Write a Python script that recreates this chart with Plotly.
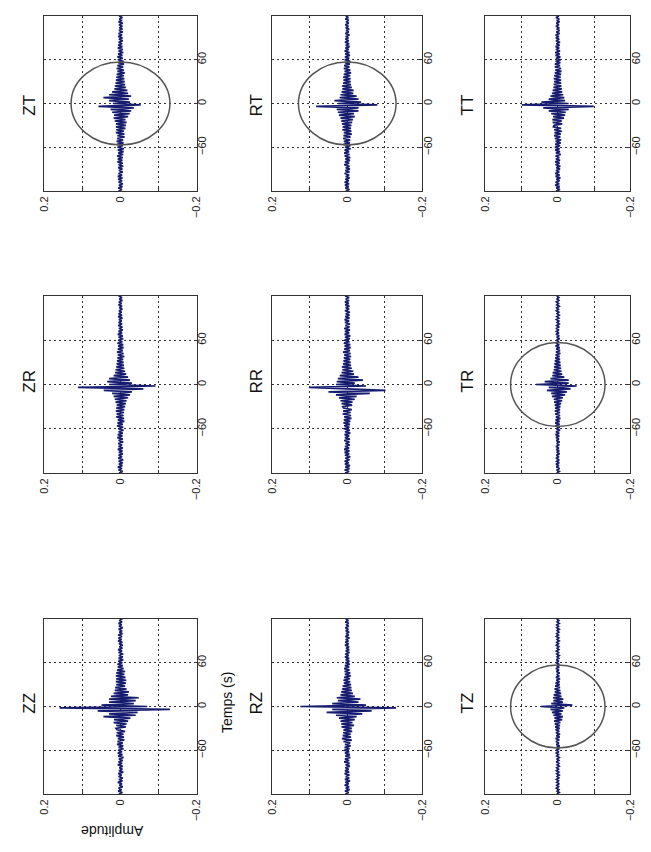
import plotly.graph_objects as go
from plotly.subplots import make_subplots

# ---------------- data ----------------
time_s = list(range(-120, 122, 2))  # sampling grid, 2 s step

ZZ = [0.004,-0.005,0.006,-0.003,0.005,-0.006,0.003,-0.004,0.007,-0.005,
      0.004,-0.006,0.005,-0.003,0.006,-0.007,0.004,-0.005,0.003,-0.006,
      0.007,-0.004,0.005,-0.006,0.004,-0.008,0.006,-0.005,0.007,-0.004,
      0.006,-0.008,0.005,-0.007,0.009,-0.006,0.008,-0.01,0.007,-0.009,
      0.011,-0.008,0.01,-0.012,0.009,
      0.012,-0.014,0.011,-0.016,0.018,-0.02,0.017,-0.026,0.045,-0.04,0.03,-0.045,0.06,-0.13,0.16,
      -0.07,0.05,-0.035,0.03,-0.04,0.03,-0.048,0.025,-0.02,0.018,-0.022,0.015,-0.016,0.014,-0.012,0.011,
      -0.014,0.012,-0.015,0.011,-0.013,0.012,-0.01,0.011,-0.012,0.009,
      -0.008,0.007,-0.006,0.008,-0.005,0.006,-0.007,0.005,-0.006,0.004,
      -0.007,0.005,-0.004,0.006,-0.005,0.003,-0.006,0.004,-0.005,0.006,
      -0.003,0.005,-0.004,0.006,-0.005,0.003,-0.004,0.005,-0.006,0.004,
      -0.003,0.005,-0.004,0.003,-0.005]

RZ = [0.005,-0.004,0.006,-0.006,0.004,-0.005,0.007,-0.004,0.005,-0.007,
      0.006,-0.005,0.004,-0.006,0.007,-0.005,0.006,-0.004,0.005,-0.007,
      0.004,-0.006,0.008,-0.005,0.006,-0.008,0.005,-0.007,0.006,-0.005,
      0.008,-0.006,0.007,-0.009,0.006,-0.008,0.01,-0.012,0.014,-0.01,
      0.012,-0.009,0.011,-0.013,0.01,
      -0.012,0.015,-0.018,0.016,-0.014,0.018,-0.02,0.022,-0.025,0.03,-0.04,0.055,-0.065,0.04,-0.13,
      0.125,-0.05,0.04,-0.03,0.025,-0.035,0.028,-0.02,0.018,-0.015,0.016,-0.012,0.014,-0.011,0.012,-0.01,
      0.009,-0.008,0.01,-0.007,0.008,-0.009,0.006,-0.008,0.007,-0.006,
      0.008,-0.005,0.006,-0.007,0.005,-0.006,0.004,-0.005,0.006,-0.004,
      0.005,-0.006,0.004,-0.005,0.003,-0.005,0.006,-0.004,0.005,-0.003,
      0.004,-0.006,0.005,-0.004,0.003,-0.005,0.004,-0.003,0.005,-0.004,
      0.003,-0.004,0.005,-0.003,0.004]

TZ = [0.003,-0.004,0.002,-0.003,0.004,-0.002,0.003,-0.004,0.003,-0.002,
      0.004,-0.003,0.002,-0.004,0.003,-0.003,0.004,-0.002,0.003,-0.004,
      0.002,-0.003,0.004,-0.003,0.002,-0.004,0.003,-0.002,0.004,-0.003,
      0.005,-0.004,0.003,-0.005,0.004,-0.003,0.005,-0.004,0.006,-0.005,
      0.004,-0.006,0.005,-0.004,0.006,
      -0.005,0.007,-0.006,0.008,-0.007,0.01,-0.012,0.009,-0.014,0.012,-0.01,0.016,-0.014,0.02,-0.018,
      0.047,-0.04,0.018,-0.014,0.012,-0.015,0.013,-0.01,0.011,-0.009,0.008,-0.007,0.009,-0.006,0.007,-0.005,
      0.006,-0.005,0.004,-0.006,0.005,-0.004,0.003,-0.005,0.004,-0.003,
      0.005,-0.004,0.003,-0.004,0.005,-0.003,0.004,-0.003,0.002,-0.004,
      0.003,-0.002,0.004,-0.003,0.002,-0.003,0.004,-0.002,0.003,-0.004,
      0.002,-0.003,0.004,-0.002,0.003,-0.003,0.002,-0.004,0.003,-0.002,
      0.003,-0.004,0.002,-0.003,0.003]

ZR = [0.004,-0.006,0.005,-0.004,0.007,-0.005,0.004,-0.006,0.005,-0.007,
      0.006,-0.004,0.005,-0.006,0.004,-0.005,0.007,-0.006,0.005,-0.004,
      0.006,-0.007,0.005,-0.006,0.008,-0.005,0.007,-0.006,0.005,-0.008,
      0.006,-0.007,0.009,-0.006,0.008,-0.01,0.007,-0.009,0.011,-0.008,
      0.01,-0.009,0.012,-0.01,0.011,
      -0.012,0.01,-0.014,0.013,-0.016,0.015,-0.02,0.018,-0.025,0.022,-0.03,0.044,-0.06,0.112,-0.092,
      0.03,-0.03,0.035,-0.025,0.03,-0.02,0.018,-0.015,0.014,-0.012,0.013,-0.01,0.011,-0.009,0.01,-0.008,
      0.009,-0.007,0.008,-0.01,0.007,-0.008,0.009,-0.006,0.007,-0.008,
      0.006,-0.007,0.008,-0.005,0.006,-0.007,0.005,-0.006,0.007,-0.004,
      0.005,-0.006,0.004,-0.005,0.006,-0.004,0.005,-0.003,0.004,-0.005,
      0.006,-0.004,0.005,-0.003,0.004,-0.005,0.003,-0.004,0.005,-0.003,
      0.004,-0.005,0.003,-0.004,0.005]

RR = [0.006,-0.005,0.007,-0.006,0.005,-0.007,0.006,-0.004,0.007,-0.006,
      0.005,-0.008,0.006,-0.005,0.007,-0.006,0.008,-0.005,0.006,-0.007,
      0.005,-0.006,0.008,-0.007,0.006,-0.005,0.007,-0.008,0.006,-0.007,
      0.009,-0.006,0.008,-0.007,0.01,-0.008,0.009,-0.011,0.008,-0.01,
      0.012,-0.009,0.011,-0.012,0.01,
      0.012,-0.013,0.015,-0.014,0.018,-0.02,0.022,-0.025,0.03,-0.06,0.05,-0.102,0.03,0.102,-0.05,
      0.03,-0.02,0.028,-0.042,0.025,-0.03,0.02,-0.018,0.015,-0.016,0.013,-0.012,0.014,-0.01,0.011,-0.009,
      0.01,-0.008,0.009,-0.01,0.008,-0.009,0.011,-0.007,0.008,-0.009,
      0.007,-0.008,0.009,-0.006,0.008,-0.007,0.006,-0.008,0.007,-0.005,
      0.006,-0.007,0.008,-0.006,0.005,-0.007,0.006,-0.005,0.007,-0.006,
      0.005,-0.006,0.004,-0.007,0.006,-0.005,0.004,-0.006,0.005,-0.004,
      0.006,-0.005,0.004,-0.005,0.006]

TR = [0.003,-0.004,0.003,-0.005,0.004,-0.003,0.005,-0.004,0.003,-0.004,
      0.005,-0.003,0.004,-0.005,0.003,-0.004,0.004,-0.003,0.005,-0.004,
      0.003,-0.005,0.004,-0.003,0.005,-0.004,0.006,-0.004,0.005,-0.006,
      0.004,-0.005,0.006,-0.005,0.007,-0.005,0.006,-0.007,0.005,-0.006,
      0.007,-0.006,0.008,-0.006,0.007,
      -0.007,0.008,-0.009,0.01,-0.012,0.011,-0.014,0.016,-0.02,0.018,-0.025,0.03,-0.035,0.025,-0.052,
      0.06,-0.03,0.036,-0.03,0.02,-0.018,0.015,-0.012,0.014,-0.01,0.011,-0.009,0.01,-0.008,0.009,-0.007,
      0.008,-0.006,0.007,-0.005,0.006,-0.007,0.005,-0.006,0.004,-0.005,
      0.006,-0.004,0.005,-0.003,0.004,-0.005,0.003,-0.004,0.005,-0.003,
      0.004,-0.003,0.005,-0.004,0.003,-0.004,0.002,-0.003,0.004,-0.003,
      0.003,-0.004,0.002,-0.003,0.004,-0.002,0.003,-0.004,0.003,-0.002,
      0.004,-0.003,0.002,-0.003,0.003]

ZT = [0.005,-0.004,0.006,-0.005,0.004,-0.006,0.005,-0.004,0.006,-0.005,
      0.007,-0.004,0.005,-0.006,0.004,-0.005,0.006,-0.007,0.005,-0.006,
      0.008,-0.005,0.007,-0.006,0.009,-0.007,0.006,-0.008,0.007,-0.009,
      0.008,-0.006,0.009,-0.008,0.01,-0.007,0.009,-0.011,0.008,-0.01,
      0.012,-0.009,0.011,-0.013,0.012,
      -0.014,0.012,-0.016,0.015,-0.013,0.018,-0.02,0.017,-0.024,0.022,-0.028,0.026,-0.035,0.058,-0.053,
      0.02,-0.025,0.03,-0.022,0.045,-0.028,0.03,-0.02,0.022,-0.018,0.016,-0.014,0.015,-0.012,0.013,-0.011,
      0.012,-0.01,0.011,-0.009,0.01,-0.011,0.008,-0.009,0.01,-0.007,
      0.008,-0.009,0.006,-0.008,0.007,-0.006,0.008,-0.005,0.006,-0.007,
      0.005,-0.006,0.007,-0.005,0.006,-0.004,0.005,-0.006,0.004,-0.005,
      0.006,-0.004,0.005,-0.006,0.004,-0.005,0.003,-0.005,0.004,-0.006,
      0.005,-0.004,0.003,-0.005,0.004]

RT = [0.004,-0.006,0.005,-0.004,0.006,-0.005,0.007,-0.004,0.005,-0.006,
      0.004,-0.005,0.007,-0.006,0.005,-0.007,0.004,-0.006,0.008,-0.005,
      0.006,-0.007,0.005,-0.008,0.007,-0.006,0.008,-0.005,0.007,-0.009,
      0.006,-0.008,0.01,-0.007,0.009,-0.008,0.011,-0.009,0.01,-0.012,
      0.009,-0.011,0.013,-0.01,0.012,
      -0.011,0.014,-0.013,0.016,-0.015,0.018,-0.02,0.022,-0.018,0.025,-0.03,0.028,-0.03,0.083,-0.08,
      0.025,-0.037,0.034,-0.03,0.02,-0.025,0.018,-0.016,0.015,-0.017,0.013,-0.012,0.014,-0.01,0.011,-0.009,
      0.01,-0.009,0.011,-0.008,0.009,-0.01,0.007,-0.008,0.009,-0.006,
      0.008,-0.007,0.006,-0.008,0.007,-0.005,0.006,-0.007,0.005,-0.006,
      0.007,-0.004,0.005,-0.006,0.004,-0.005,0.006,-0.004,0.005,-0.003,
      0.004,-0.006,0.005,-0.004,0.003,-0.005,0.004,-0.003,0.005,-0.004,
      0.003,-0.004,0.005,-0.003,0.004]

TT = [0.005,-0.006,0.004,-0.005,0.007,-0.004,0.006,-0.005,0.004,-0.007,
      0.006,-0.005,0.007,-0.004,0.005,-0.006,0.004,-0.007,0.006,-0.005,
      0.007,-0.006,0.005,-0.004,0.006,-0.008,0.005,-0.006,0.007,-0.005,
      0.008,-0.006,0.007,-0.008,0.006,-0.009,0.008,-0.007,0.01,-0.008,
      0.009,-0.011,0.01,-0.009,0.012,
      0.01,-0.012,0.014,-0.011,0.015,-0.017,0.013,-0.02,0.018,-0.022,0.025,-0.03,0.04,-0.099,0.099,
      -0.03,0.045,-0.02,0.025,-0.018,0.02,-0.015,0.016,-0.012,0.014,-0.011,0.012,-0.01,0.011,-0.009,0.01,
      -0.009,0.011,-0.008,0.01,-0.009,0.008,-0.01,0.007,-0.009,0.008,
      -0.006,0.008,-0.007,0.006,-0.008,0.005,-0.007,0.006,-0.005,0.007,
      -0.006,0.005,-0.004,0.006,-0.005,0.004,-0.006,0.005,-0.004,0.005,
      -0.003,0.006,-0.005,0.004,-0.005,0.003,-0.004,0.005,-0.003,0.004,
      -0.005,0.003,-0.004,0.005,-0.003]

# panel grid as it appears on the page (rows top->bottom, cols left->right)
panel_names = [["ZT", "RT", "TT"],
               ["ZR", "RR", "TR"],
               ["ZZ", "RZ", "TZ"]]
series = {"ZZ": ZZ, "RZ": RZ, "TZ": TZ, "ZR": ZR, "RR": RR, "TR": TR,
          "ZT": ZT, "RT": RT, "TT": TT}
circle_panels = ["ZT", "RT", "TR", "TZ"]
circle_amp = 0.13      # half-width of the ellipse (amplitude)
circle_time = 57       # half-height of the ellipse (seconds)

amp_ticks = [0.2, 0.1, 0, -0.1, -0.2]
amp_ticktext = ["0.2", "", "0", "", "\u22120.2"]
time_ticks = [-120, -60, 0, 60, 120]
time_ticktext = ["", "\u221260", "0", "60", ""]

# ---------------- layout geometry (pixels) ----------------
W, H = 651, 852
col_px = [(31, 186), (263, 416), (480, 628)]
row_px = [(8, 183), (288, 465), (611, 786)]
title_x_px = [15, 247, 462]
title_y_px = [97, 373, 695]

fig = make_subplots(rows=3, cols=3)

TRACE_COLOR = "rgb(22,28,112)"
FONT = "Liberation Sans, Arial, sans-serif"
GRID_DASH = "2px,3px"

for r in range(3):
    for c in range(3):
        name = panel_names[r][c]
        fig.add_trace(go.Scatter(x=series[name], y=time_s, mode="lines",
                                 line=dict(color=TRACE_COLOR, width=1.7),
                                 showlegend=False, hoverinfo="skip"),
                      row=r + 1, col=c + 1)
        idx = r * 3 + c + 1
        xa = "xaxis" if idx == 1 else f"xaxis{idx}"
        ya = "yaxis" if idx == 1 else f"yaxis{idx}"
        x0, x1 = col_px[c]
        y0, y1 = row_px[r]
        fig.layout[xa].update(
            domain=[x0 / W, x1 / W], range=[0.2, -0.2],
            tickvals=amp_ticks, ticktext=amp_ticktext, tickangle=-90,
            showgrid=True, gridcolor="#333", griddash=GRID_DASH, gridwidth=1,
            zeroline=False, showline=True, mirror=True, linecolor="#333",
            linewidth=1, ticks="inside", ticklen=3, tickcolor="#333",
            tickfont=dict(family=FONT, size=11, color="#222"))
        fig.layout[ya].update(
            domain=[1 - y1 / H, 1 - y0 / H], range=[-120, 120],
            tickvals=time_ticks, ticktext=time_ticktext, tickangle=-90,
            side="right", ticklabelstandoff=-5, ticklabeloverflow="allow",
            showgrid=True, gridcolor="#333", griddash=GRID_DASH, gridwidth=1,
            zeroline=False, showline=True, mirror=True, linecolor="#333",
            linewidth=1, ticks="inside", ticklen=3, tickcolor="#333",
            tickfont=dict(family=FONT, size=11, color="#222"))
        xref = "x" if idx == 1 else f"x{idx}"
        yref = "y" if idx == 1 else f"y{idx}"
        if name in circle_panels:
            fig.add_shape(type="circle", xref=xref, yref=yref,
                          x0=-circle_amp, x1=circle_amp,
                          y0=-circle_time, y1=circle_time,
                          line=dict(color="#555", width=1.5))
        fig.add_annotation(text=name, xref="paper", yref="paper",
                           x=title_x_px[c] / W, y=1 - title_y_px[r] / H,
                           xanchor="center", yanchor="middle", textangle=-90,
                           showarrow=False,
                           font=dict(family=FONT, size=17, color="#111"))

fig.add_annotation(text="Temps (s)", xref="paper", yref="paper",
                   x=217 / W, y=1 - 695 / H, xanchor="center", yanchor="middle",
                   textangle=-90, showarrow=False,
                   font=dict(family=FONT, size=14, color="#111"))
fig.add_annotation(text="Amplitude", xref="paper", yref="paper",
                   x=100 / W, y=1 - 823 / H, xanchor="center", yanchor="middle",
                   textangle=180, showarrow=False,
                   font=dict(family=FONT, size=14, color="#111"))

fig.update_layout(width=W, height=H, margin=dict(l=0, r=0, t=0, b=0),
                  paper_bgcolor="white", plot_bgcolor="white",
                  font=dict(family=FONT))

fig.write_html("out.html")
